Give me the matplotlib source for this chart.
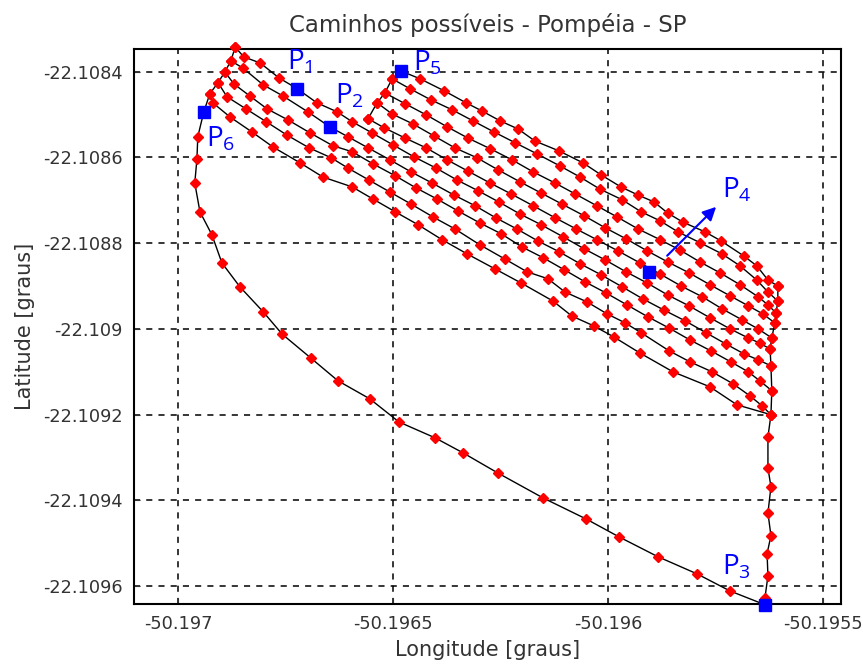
import matplotlib
matplotlib.use("Agg")
import matplotlib.pyplot as plt

plt.rcParams["font.family"] = ["DejaVu Sans"]
plt.rcParams["mathtext.fontset"] = "custom"
plt.rcParams["mathtext.rm"] = "Open Sans"
plt.rcParams["mathtext.it"] = "Open Sans"

# ---- paths (longitude, latitude) ----
left_edge_lon = [-50.196867, -50.196877, -50.196891, -50.196907, -50.196926, -50.196940]
left_edge_lat = [-22.108343, -22.108375, -22.108401, -22.108426, -22.108452, -22.108494]

p5_edge_lon = [-50.196481, -50.196502, -50.196519, -50.196537, -50.196558]
p5_edge_lat = [-22.108399, -22.108417, -22.108450, -22.108473, -22.108510]

outer_lon = [-50.196940, -50.196954, -50.196956, -50.196961, -50.196949, -50.196921,
             -50.196898, -50.196856, -50.196802, -50.196758, -50.196691, -50.196628,
             -50.196554, -50.196486, -50.196402, -50.196337, -50.196256, -50.196151,
             -50.196051, -50.195974, -50.195884, -50.195793, -50.195716, -50.195635,
             -50.195635, -50.195628, -50.195630, -50.195621, -50.195628, -50.195621,
             -50.195628, -50.195628, -50.195621, -50.195619, -50.195621, -50.195623,
             -50.195619, -50.195612, -50.195609, -50.195605, -50.195605]
outer_lat = [-22.108494, -22.108552, -22.108604, -22.108660, -22.108727, -22.108781,
             -22.108846, -22.108902, -22.108960, -22.109012, -22.109068, -22.109121,
             -22.109163, -22.109217, -22.109254, -22.109289, -22.109336, -22.109394,
             -22.109443, -22.109485, -22.109531, -22.109571, -22.109611, -22.109643,
             -22.109627, -22.109576, -22.109524, -22.109482, -22.109429, -22.109368,
             -22.109324, -22.109252, -22.109200, -22.109144, -22.109086, -22.109047,
             -22.109021, -22.108986, -22.108963, -22.108935, -22.108900]

b0_lon = [-50.196481, -50.196437, -50.196381, -50.196330, -50.196293, -50.196251,
          -50.196209, -50.196170, -50.196114, -50.196058, -50.196016, -50.195970,
          -50.195930, -50.195893, -50.195861, -50.195826, -50.195774, -50.195737,
          -50.195684, -50.195654, -50.195628, -50.195605]
b0_lat = [-22.108399, -22.108417, -22.108445, -22.108473, -22.108492, -22.108515,
          -22.108534, -22.108562, -22.108585, -22.108613, -22.108641, -22.108669,
          -22.108688, -22.108704, -22.108730, -22.108751, -22.108774, -22.108795,
          -22.108830, -22.108853, -22.108886, -22.108900]

b1_lon = [-50.196502, -50.196461, -50.196412, -50.196363, -50.196314, -50.196265,
          -50.196216, -50.196165, -50.196112, -50.196065, -50.196019, -50.195967,
          -50.195923, -50.195879, -50.195837, -50.195786, -50.195735, -50.195693,
          -50.195654, -50.195628, -50.195605]
b1_lat = [-22.108417, -22.108440, -22.108466, -22.108489, -22.108515, -22.108541,
          -22.108566, -22.108592, -22.108620, -22.108646, -22.108674, -22.108699,
          -22.108727, -22.108748, -22.108774, -22.108799, -22.108825, -22.108853,
          -22.108886, -22.108914, -22.108935]

b2_lon = [-50.196519, -50.196472, -50.196423, -50.196374, -50.196326, -50.196274,
          -50.196223, -50.196174, -50.196123, -50.196077, -50.196026, -50.195979,
          -50.195930, -50.195879, -50.195833, -50.195786, -50.195740, -50.195693,
          -50.195651, -50.195628, -50.195609]
b2_lat = [-22.108450, -22.108475, -22.108501, -22.108529, -22.108555, -22.108580,
          -22.108606, -22.108634, -22.108660, -22.108685, -22.108713, -22.108739,
          -22.108767, -22.108792, -22.108816, -22.108844, -22.108869, -22.108897,
          -22.108925, -22.108944, -22.108963]

b3_lon = [-50.196537, -50.196502, -50.196454, -50.196405, -50.196356, -50.196305,
          -50.196256, -50.196205, -50.196156, -50.196107, -50.196056, -50.196007,
          -50.195958, -50.195909, -50.195861, -50.195812, -50.195763, -50.195716,
          -50.195674, -50.195640, -50.195612]
b3_lat = [-22.108473, -22.108499, -22.108522, -22.108550, -22.108578, -22.108601,
          -22.108629, -22.108657, -22.108683, -22.108709, -22.108736, -22.108764,
          -22.108790, -22.108818, -22.108844, -22.108869, -22.108897, -22.108923,
          -22.108946, -22.108965, -22.108986]

b4_lon = [-50.196558, -50.196521, -50.196472, -50.196423, -50.196374, -50.196326,
          -50.196274, -50.196226, -50.196174, -50.196123, -50.196074, -50.196026,
          -50.195977, -50.195926, -50.195879, -50.195830, -50.195781, -50.195735,
          -50.195688, -50.195651, -50.195619]
b4_lat = [-22.108510, -22.108531, -22.108555, -22.108578, -22.108606, -22.108632,
          -22.108660, -22.108685, -22.108713, -22.108741, -22.108767, -22.108792,
          -22.108818, -22.108846, -22.108872, -22.108900, -22.108925, -22.108953,
          -22.108979, -22.109000, -22.109021]

la_lon = [-50.196867, -50.196847, -50.196809, -50.196765, -50.196723, -50.196677,
          -50.196630, -50.196595, -50.196549, -50.196500, -50.196451, -50.196400,
          -50.196351, -50.196302, -50.196254, -50.196205, -50.196156, -50.196105,
          -50.196056, -50.196007, -50.195958, -50.195909, -50.195861, -50.195812,
          -50.195763, -50.195716, -50.195674, -50.195647, -50.195623]
la_lat = [-22.108343, -22.108366, -22.108380, -22.108415, -22.108440, -22.108473,
          -22.108494, -22.108517, -22.108543, -22.108571, -22.108599, -22.108625,
          -22.108653, -22.108678, -22.108704, -22.108732, -22.108757, -22.108785,
          -22.108813, -22.108839, -22.108867, -22.108893, -22.108921, -22.108946,
          -22.108974, -22.109000, -22.109021, -22.109033, -22.109047]

lb_lon = [-50.196877, -50.196849, -50.196802, -50.196756, -50.196698, -50.196647,
          -50.196605, -50.196558, -50.196507, -50.196458, -50.196409, -50.196358,
          -50.196309, -50.196261, -50.196212, -50.196163, -50.196114, -50.196065,
          -50.196016, -50.195967, -50.195919, -50.195870, -50.195821, -50.195772,
          -50.195726, -50.195684, -50.195651, -50.195621]
lb_lat = [-22.108375, -22.108392, -22.108431, -22.108457, -22.108494, -22.108529,
          -22.108552, -22.108578, -22.108606, -22.108634, -22.108660, -22.108688,
          -22.108713, -22.108741, -22.108767, -22.108795, -22.108820, -22.108848,
          -22.108874, -22.108902, -22.108930, -22.108956, -22.108981, -22.109009,
          -22.109035, -22.109058, -22.109072, -22.109086]

lc_lon = [-50.196891, -50.196870, -50.196833, -50.196793, -50.196744, -50.196693,
          -50.196640, -50.196595, -50.196547, -50.196495, -50.196447, -50.196398,
          -50.196349, -50.196298, -50.196249, -50.196200, -50.196151, -50.196102,
          -50.196054, -50.196005, -50.195956, -50.195907, -50.195858, -50.195809,
          -50.195761, -50.195714, -50.195674, -50.195647, -50.195619]
lc_lat = [-22.108401, -22.108429, -22.108457, -22.108487, -22.108513, -22.108543,
          -22.108573, -22.108587, -22.108615, -22.108643, -22.108671, -22.108697,
          -22.108725, -22.108753, -22.108778, -22.108809, -22.108834, -22.108862,
          -22.108890, -22.108916, -22.108944, -22.108972, -22.108998, -22.109026,
          -22.109051, -22.109077, -22.109100, -22.109121, -22.109144]

ld_lon = [-50.196907, -50.196886, -50.196842, -50.196795, -50.196747, -50.196695,
          -50.196644, -50.196605, -50.196556, -50.196507, -50.196458, -50.196407,
          -50.196356, -50.196298, -50.196240, -50.196188, -50.196140, -50.196100,
          -50.196049, -50.196002, -50.195960, -50.195923, -50.195858, -50.195809,
          -50.195758, -50.195709, -50.195670, -50.195642, -50.195621]
ld_lat = [-22.108426, -22.108459, -22.108487, -22.108517, -22.108548, -22.108578,
          -22.108601, -22.108625, -22.108653, -22.108681, -22.108709, -22.108739,
          -22.108767, -22.108804, -22.108837, -22.108867, -22.108883, -22.108914,
          -22.108937, -22.108965, -22.108986, -22.109009, -22.109051, -22.109077,
          -22.109100, -22.109128, -22.109156, -22.109179, -22.109200]

le_lon = [-50.196926, -50.196919, -50.196879, -50.196828, -50.196779, -50.196716,
          -50.196663, -50.196595, -50.196547, -50.196495, -50.196442, -50.196386,
          -50.196328, -50.196263, -50.196202, -50.196128, -50.196084, -50.196033,
          -50.195986, -50.195926, -50.195849, -50.195763, -50.195700, -50.195621]
le_lat = [-22.108452, -22.108473, -22.108506, -22.108541, -22.108576, -22.108613,
          -22.108646, -22.108669, -22.108697, -22.108727, -22.108757, -22.108792,
          -22.108825, -22.108860, -22.108893, -22.108935, -22.108970, -22.108993,
          -22.109019, -22.109056, -22.109100, -22.109135, -22.109177, -22.109200]

# highlighted points P1..P6
pt_names = ["1", "2", "3", "4", "5", "6"]
pt_lon = [-50.196723, -50.196647, -50.195635, -50.195905, -50.196481, -50.196940]
pt_lat = [-22.108440, -22.108529, -22.109643, -22.108867, -22.108399, -22.108494]
lbl_lon = [-50.196716, -50.196602, -50.195700, -50.195700, -50.196419, -50.196900]
lbl_lat = [-22.108378, -22.108457, -22.109555, -22.108676, -22.108380, -22.108559]

arrow_start = (-50.195867, -22.108834)
arrow_end = (-50.195744, -22.108711)

paths = [
    (left_edge_lon, left_edge_lat), (p5_edge_lon, p5_edge_lat), (outer_lon, outer_lat),
    (b0_lon, b0_lat), (b1_lon, b1_lat), (b2_lon, b2_lat), (b3_lon, b3_lat),
    (b4_lon, b4_lat), (la_lon, la_lat), (lb_lon, lb_lat), (lc_lon, lc_lat),
    (ld_lon, ld_lat), (le_lon, le_lat),
]

fig = plt.figure(figsize=(8.63, 6.68), dpi=100)
ax = fig.add_axes([0.1553, 0.0958, 0.8192, 0.8308])

for lon, lat in paths:
    ax.plot(lon, lat, color="black", lw=1.0, zorder=2)
for lon, lat in paths:
    ax.plot(lon, lat, ls="none", marker="D", ms=4.6, mfc="red", mec="red",
            zorder=3, clip_on=False)

ax.plot(pt_lon, pt_lat, ls="none", marker="s", ms=8.5, mfc="blue", mec="blue",
        zorder=4, clip_on=False)
for name, x, y in zip(pt_names, lbl_lon, lbl_lat):
    ax.text(x, y, "P$_{" + name + "}$", color="blue", fontsize=20,
            family="Open Sans", ha="center", va="center", zorder=5)

ax.annotate("", xy=arrow_end, xytext=arrow_start,
            arrowprops=dict(arrowstyle="-|>", color="blue", lw=1.5,
                            mutation_scale=20), zorder=5)

ax.set_xlim(-50.1971023, -50.1954581)
ax.set_ylim(-22.1096413, -22.1083476)
ax.set_xticks([-50.197, -50.1965, -50.196, -50.1955])
ax.set_xticklabels(["-50.197", "-50.1965", "-50.196", "-50.1955"])
yt = [-22.1084, -22.1086, -22.1088, -22.109, -22.1092, -22.1094, -22.1096]
ax.set_yticks(yt)
ax.set_yticklabels(["-22.1084", "-22.1086", "-22.1088", "-22.109",
                    "-22.1092", "-22.1094", "-22.1096"])
ax.tick_params(direction="in", length=4, labelsize=12.8, colors="#333333",
               pad=8)
ax.grid(True, color="black", ls=(0, (4, 4)), lw=1.1)
for s in ax.spines.values():
    s.set_linewidth(1.5)

ax.set_title("Caminhos possíveis - Pompéia - SP", fontsize=16.5,
             color="#333333", pad=12)
ax.set_xlabel("Longitude [graus]", fontsize=15, color="#333333", labelpad=5)
ax.set_ylabel("Latitude [graus]", fontsize=15, color="#333333", labelpad=6)

fig.savefig("out.png", dpi=100)
